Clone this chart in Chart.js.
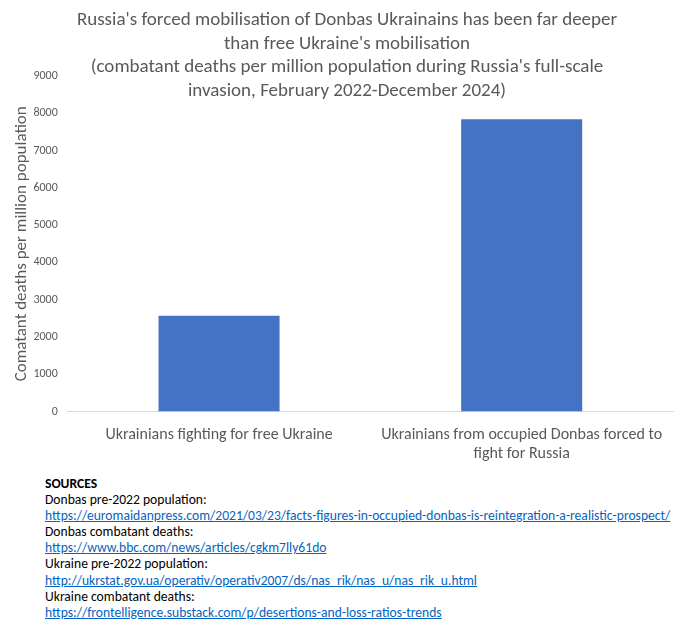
<!DOCTYPE html>
<html>
<head>
<meta charset="utf-8">
<script src="https://cdn.jsdelivr.net/npm/chart.js@4"></script>
<style>
  body { margin: 0; background: #fff; font-family: Carlito, "Open Sans", sans-serif; }
  #wrap { position: relative; width: 694px; height: 630px; }
  #chartBox { position: absolute; left: 0; top: 0; width: 694px; height: 470px; }
  #title { position: absolute; left: 0; top: 7px; width: 694px; text-align: center;
           color: #595959; font-size: 19px; line-height: 23.5px; }
  #sources { position: absolute; left: 45px; top: 476px; font-size: 13.6px; line-height: 16.1px; color: #000; }
  #sources a { color: #0563C1; text-decoration: underline; }
</style>
</head>
<body>
<div id="wrap">
  <div id="chartBox"><canvas id="deathsChart"></canvas></div>
  <div id="title">Russia's forced mobilisation of Donbas Ukrainains has been far deeper<br>than free Ukraine's mobilisation<br>(combatant deaths per million population during Russia's full-scale<br>invasion, February 2022-December 2024)</div>
  <div id="sources">
    <b>SOURCES</b><br>
    Donbas pre-2022 population:<br>
    <a>https://euromaidanpress.com/2021/03/23/facts-figures-in-occupied-donbas-is-reintegration-a-realistic-prospect/</a><br>
    Donbas combatant deaths:<br>
    <a>https://www.bbc.com/news/articles/cgkm7lly61do</a><br>
    Ukraine pre-2022 population:<br>
    <a>http://ukrstat.gov.ua/operativ/operativ2007/ds/nas_rik/nas_u/nas_rik_u.html</a><br>
    Ukraine combatant deaths:<br>
    <a>https://frontelligence.substack.com/p/desertions-and-loss-ratios-trends</a>
  </div>
</div>
<script>
// chart data
const categories = [
    'Ukrainians fighting for free Ukraine',
    ['Ukrainians from occupied Donbas forced to', 'fight for Russia']
];
const deathsPerMillion = [2570, 7840];
const yTicksMax = 9000;
const yTicksStep = 1000;

const ctx = document.getElementById('deathsChart').getContext('2d');
const fontFamily = 'Carlito, "Open Sans", sans-serif';

const deathsChart = new Chart(ctx, {
    type: 'bar',
    data: {
        labels: categories,
        datasets: [{
            label: 'Combatant deaths per million',
            data: deathsPerMillion,
            backgroundColor: '#4472C4',
            categoryPercentage: 1,
            barPercentage: 0.4
        }]
    },
    options: {
        responsive: true,
        maintainAspectRatio: false,
        animation: false,
        layout: { padding: { top: 76, right: 21, left: 12, bottom: 0 } },
        plugins: {
            legend: { display: false },
            tooltip: { enabled: false }
        },
        scales: {
            x: {
                grid: { display: false },
                border: { color: '#d9d9d9', width: 1 },
                ticks: {
                    color: '#595959',
                    font: { family: fontFamily, size: 16 },
                    maxRotation: 0,
                    padding: 6
                }
            },
            y: {
                min: 0,
                max: yTicksMax,
                grid: { display: false, drawTicks: false },
                border: { display: false },
                ticks: {
                    stepSize: yTicksStep,
                    color: '#595959',
                    font: { family: fontFamily, size: 12 },
                    padding: 10,
                    callback: v => String(v)
                },
                title: {
                    display: true,
                    text: 'Comatant deaths per million population',
                    color: '#595959',
                    font: { family: fontFamily, size: 17 },
                    padding: { top: 0, bottom: -9 }
                }
            }
        }
    }
});
</script>
</body>
</html>
